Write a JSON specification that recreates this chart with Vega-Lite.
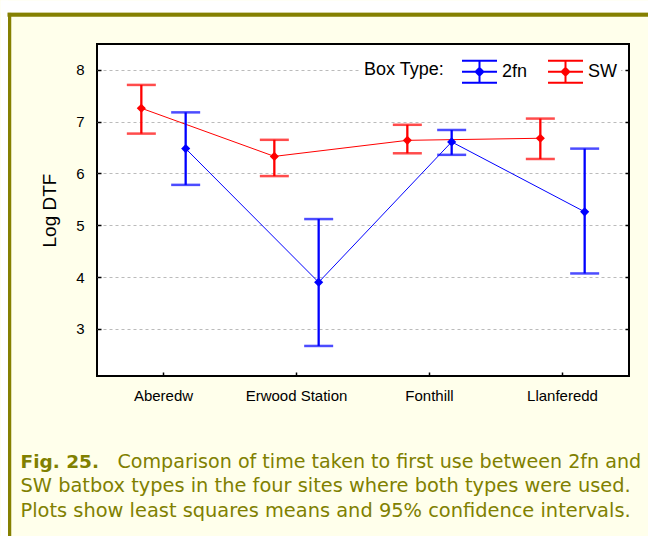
{
  "$schema": "https://vega.github.io/schema/vega-lite/v6.json",
  "width": 532,
  "height": 332,
  "autosize": "none",
  "padding": {"left": 97, "top": 44, "right": 19, "bottom": 160},
  "background": "#FFFFEB",
  "config": {
    "view": {"stroke": "#000000", "strokeWidth": 2, "fill": "#FFFFFF"},
    "font": "Liberation Sans"
  },
  "data": {
    "values": [
      {"site": "Aberedw", "type": "SW", "mean": 7.26, "lo": 6.77, "hi": 7.71},
      {"site": "Aberedw", "type": "2fn", "mean": 6.48, "lo": 5.78, "hi": 7.18},
      {"site": "Erwood Station", "type": "SW", "mean": 6.33, "lo": 5.95, "hi": 6.65},
      {"site": "Erwood Station", "type": "2fn", "mean": 3.9, "lo": 2.67, "hi": 5.12},
      {"site": "Fonthill", "type": "SW", "mean": 6.64, "lo": 6.39, "hi": 6.94},
      {"site": "Fonthill", "type": "2fn", "mean": 6.61, "lo": 6.36, "hi": 6.84},
      {"site": "Llanferedd", "type": "SW", "mean": 6.68, "lo": 6.28, "hi": 7.06},
      {"site": "Llanferedd", "type": "2fn", "mean": 5.26, "lo": 4.07, "hi": 6.48}
    ]
  },
  "resolve": {"axis": {"y": "independent", "x": "independent"}},
  "encoding": {
    "xOffset": {
      "field": "type",
      "type": "nominal",
      "sort": ["SW", "2fn"],
      "scale": {"type": "point", "padding": 2.825}
    }
  },
  "layer": [
    {
      "mark": {"type": "line", "strokeWidth": 1},
      "encoding": {
        "x": {
          "field": "site",
          "type": "nominal",
          "sort": ["Aberedw", "Erwood Station", "Fonthill", "Llanferedd"],
          "scale": {"type": "band", "paddingInner": 0, "paddingOuter": 0},
          "axis": {
            "title": [
              "SW batbox types in the four sites where both types were used.",
              "Plots show least squares means and 95% confidence intervals."
            ],
            "titleX": -77,
            "titleY": 115.5,
            "titleAngle": 0,
            "titleAlign": "left",
            "titleBaseline": "alphabetic",
            "titleFont": "DejaVu Sans",
            "titleFontSize": 19.4,
            "titleFontWeight": "normal",
            "titleColor": "#808000",
            "titleLineHeight": 24.5,
            "labelAngle": 0,
            "labelFont": "Liberation Sans",
            "labelFontSize": 15,
            "labelColor": "#000000",
            "labelPadding": 16,
            "tickSize": -4,
            "tickColor": "#000000",
            "tickWidth": 1.5,
            "domain": false,
            "grid": false
          }
        },
        "y": {
          "field": "mean",
          "type": "quantitative",
          "scale": {"domain": [2.09, 8.5], "nice": false, "zero": false},
          "axis": {
            "orient": "left",
            "title": "Log DTF",
            "values": [3, 4, 5, 6, 7, 8],
            "grid": true,
            "gridColor": "#BBBBBB",
            "gridDash": [3, 3],
            "gridWidth": 1,
            "domain": false,
            "tickSize": -4,
            "tickColor": "#000000",
            "tickWidth": 1.5,
            "labelFont": "Liberation Sans",
            "labelFontSize": 15,
            "labelColor": "#000000",
            "labelPadding": 17,
            "titleFont": "Liberation Sans",
            "titleFontSize": 19,
            "titleFontWeight": "normal",
            "titleColor": "#000000",
            "titleX": -42,
            "titleY": 166,
            "titleAngle": -90,
            "titleAlign": "center",
            "titleBaseline": "alphabetic"
          }
        },
        "stroke": {
          "field": "type",
          "type": "nominal",
          "scale": {"domain": ["2fn", "SW"], "range": ["#0000FF", "#FF0000"]}
        }
      }
    },
    {
      "mark": {"type": "rule", "strokeWidth": 2.3},
      "encoding": {
        "x": {
          "field": "site",
          "type": "nominal",
          "sort": ["Aberedw", "Erwood Station", "Fonthill", "Llanferedd"],
          "scale": {"type": "band", "paddingInner": 0, "paddingOuter": 0},
          "axis": null
        },
        "y": {
          "field": "lo",
          "type": "quantitative",
          "scale": {"domain": [2.09, 8.5], "nice": false, "zero": false},
          "axis": {
            "orient": "right",
            "title": "Fig. 25.",
            "titleX": -609,
            "titleY": 423,
            "titleAngle": 0,
            "titleAlign": "left",
            "titleBaseline": "alphabetic",
            "titleFont": "DejaVu Sans",
            "titleFontSize": 18.5,
            "titleFontWeight": "bold",
            "titleColor": "#808000",
            "labels": false,
            "values": [3, 4, 5, 6, 7, 8],
            "grid": false,
            "domain": false,
            "tickSize": -4,
            "tickColor": "#000000",
            "tickWidth": 1.5
          }
        },
        "y2": {"field": "hi"},
        "stroke": {
          "field": "type",
          "type": "nominal",
          "scale": {"domain": ["2fn", "SW"], "range": ["#0000FF", "#FF0000"]}
        }
      }
    },
    {
      "mark": {"type": "tick", "size": 29, "thickness": 2.5},
      "encoding": {
        "x": {
          "field": "site",
          "type": "nominal",
          "sort": ["Aberedw", "Erwood Station", "Fonthill", "Llanferedd"],
          "scale": {"type": "band", "paddingInner": 0, "paddingOuter": 0},
          "axis": {
            "orient": "bottom",
            "offset": 160,
            "values": ["Aberedw"],
            "title": "Comparison of time taken to first use between 2fn and",
            "titleX": 20,
            "titleY": -69,
            "titleAngle": 0,
            "titleAlign": "left",
            "titleBaseline": "alphabetic",
            "titleFont": "DejaVu Sans",
            "titleFontSize": 19.1,
            "titleFontWeight": "normal",
            "titleColor": "#808000",
            "labels": false,
            "domain": false,
            "grid": false,
            "tickOffset": -154.75,
            "tickSize": -524,
            "tickWidth": 3.5,
            "tickColor": "#858000"
          }
        },
        "y": {
          "field": "lo",
          "type": "quantitative",
          "scale": {"domain": [2.09, 8.5], "nice": false, "zero": false},
          "axis": {
            "orient": "right",
            "offset": 19,
            "values": [8.5],
            "title": null,
            "labels": false,
            "domain": false,
            "grid": false,
            "tickOffset": -29.75,
            "tickSize": -641,
            "tickWidth": 4.5,
            "tickColor": "#858000"
          }
        },
        "fill": {
          "field": "type",
          "type": "nominal",
          "scale": {"domain": ["2fn", "SW"], "range": ["#0000FF", "#FF0000"]}
        }
      }
    },
    {
      "mark": {"type": "tick", "size": 29, "thickness": 2.5},
      "encoding": {
        "x": {
          "field": "site",
          "type": "nominal",
          "sort": ["Aberedw", "Erwood Station", "Fonthill", "Llanferedd"],
          "scale": {"type": "band", "paddingInner": 0, "paddingOuter": 0},
          "axis": {
            "orient": "bottom",
            "offset": 160,
            "values": ["Aberedw"],
            "title": null,
            "labels": false,
            "domain": false,
            "grid": false,
            "tickOffset": -160,
            "tickSize": -536,
            "tickWidth": 7,
            "tickColor": "#FFFFFF"
          }
        },
        "y": {
          "field": "hi",
          "type": "quantitative",
          "scale": {"domain": [2.09, 8.5], "nice": false, "zero": false},
          "axis": {
            "orient": "right",
            "offset": 19,
            "values": [8.5],
            "title": null,
            "labels": false,
            "domain": false,
            "grid": false,
            "tickOffset": -38,
            "tickSize": -648,
            "tickWidth": 12,
            "tickColor": "#FFFFFF"
          }
        },
        "fill": {
          "field": "type",
          "type": "nominal",
          "scale": {"domain": ["2fn", "SW"], "range": ["#0000FF", "#FF0000"]}
        }
      }
    },
    {
      "mark": {"type": "point", "shape": "diamond", "filled": true, "size": 40, "strokeWidth": 2, "opacity": 1},
      "encoding": {
        "x": {
          "field": "site",
          "type": "nominal",
          "sort": ["Aberedw", "Erwood Station", "Fonthill", "Llanferedd"],
          "scale": {"type": "band", "paddingInner": 0, "paddingOuter": 0},
          "axis": null
        },
        "y": {
          "field": "mean",
          "type": "quantitative",
          "scale": {"domain": [2.09, 8.5], "nice": false, "zero": false},
          "axis": null
        },
        "fill": {
          "field": "type",
          "type": "nominal",
          "scale": {"domain": ["2fn", "SW"], "range": ["#0000FF", "#FF0000"]},
          "legend": {
            "title": "Box Type:",
            "orient": "none",
            "legendX": 263,
            "legendY": 5,
            "direction": "horizontal",
            "titleOrient": "left",
            "titleAnchor": "middle",
            "titleBaseline": "middle",
            "fillColor": "#FFFFFF",
            "padding": 4,
            "titleFont": "Liberation Sans",
            "titleFontSize": 18,
            "titleFontWeight": "normal",
            "titleColor": "#000000",
            "titlePadding": 16,
            "labelFont": "Liberation Sans",
            "labelFontSize": 18,
            "labelColor": "#000000",
            "labelOffset": 4,
            "columnPadding": 16,
            "symbolType": "M-1,-0.63H1M-1,0.63H1M0,-0.63V0.63M-1,0H1M-0.22,0L0,-0.22L0.22,0L0,0.22Z",
            "symbolSize": 1225,
            "symbolStrokeWidth": 2,
            "symbolOpacity": 1
          }
        },
        "stroke": {
          "field": "type",
          "type": "nominal",
          "scale": {"domain": ["2fn", "SW"], "range": ["#0000FF", "#FF0000"]},
          "legend": {
            "title": "Box Type:",
            "orient": "none",
            "legendX": 263,
            "legendY": 5,
            "direction": "horizontal",
            "titleOrient": "left",
            "titleAnchor": "middle",
            "titleBaseline": "middle",
            "fillColor": "#FFFFFF",
            "padding": 4,
            "titleFont": "Liberation Sans",
            "titleFontSize": 18,
            "titleFontWeight": "normal",
            "titleColor": "#000000",
            "titlePadding": 16,
            "labelFont": "Liberation Sans",
            "labelFontSize": 18,
            "labelColor": "#000000",
            "labelOffset": 4,
            "columnPadding": 16,
            "symbolType": "M-1,-0.63H1M-1,0.63H1M0,-0.63V0.63M-1,0H1M-0.22,0L0,-0.22L0.22,0L0,0.22Z",
            "symbolSize": 1225,
            "symbolStrokeWidth": 2,
            "symbolOpacity": 1
          }
        }
      }
    }
  ]
}
